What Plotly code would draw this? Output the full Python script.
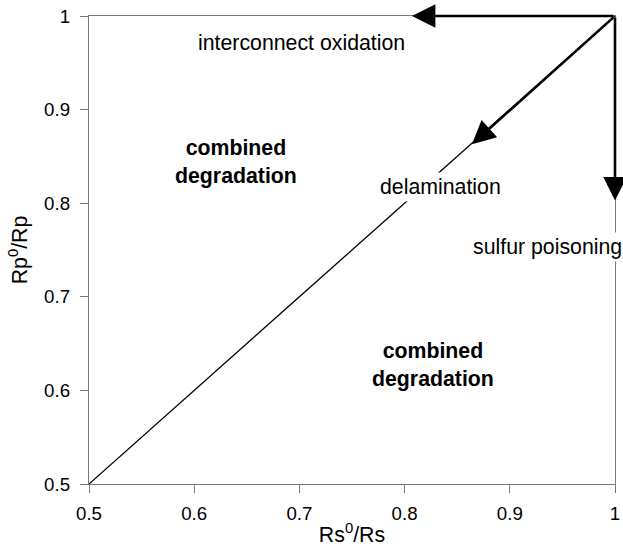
import plotly.graph_objects as go

# diagonal reference line
diag_x = [0.5, 1.0]
diag_y = [0.5, 1.0]

# arrows: start -> end
arrow_names = ["interconnect oxidation", "delamination", "sulfur poisoning"]
arrow_start_x = [1.0, 1.0, 1.0]
arrow_start_y = [1.0, 1.0, 1.0]
arrow_end_x = [0.807, 0.864, 1.0]
arrow_end_y = [1.0, 0.863, 0.803]

# text labels
label_text = ["interconnect oxidation", "delamination", "sulfur poisoning",
              "<b>combined<br>degradation</b>", "<b>combined<br>degradation</b>"]
label_x = [0.702, 0.834, 0.936, 0.640, 0.827]
label_y = [0.971, 0.817, 0.753, 0.844, 0.627]
label_bg = [False, True, True, False, False]

tick_vals = [0.5, 0.6, 0.7, 0.8, 0.9, 1.0]
tick_text = ["0.5", "0.6", "0.7", "0.8", "0.9", "1"]

FONT = "Liberation Sans, Arial, sans-serif"
TXT = 21.3
TICK = 18.7

fig = go.Figure()
fig.add_trace(go.Scatter(x=diag_x, y=diag_y, mode="lines",
                         line=dict(color="black", width=1.3),
                         hoverinfo="skip", showlegend=False, cliponaxis=False))

annotations = []
for sx, sy, ex, ey in zip(arrow_start_x, arrow_start_y, arrow_end_x, arrow_end_y):
    annotations.append(dict(x=ex, y=ey, ax=sx, ay=sy, xref="x", yref="y",
                            axref="x", ayref="y", text="", showarrow=True,
                            arrowhead=2, arrowsize=1.8, arrowwidth=2.6,
                            arrowcolor="black", standoff=0, startstandoff=0))
for t, x, y, bg in zip(label_text, label_x, label_y, label_bg):
    annotations.append(dict(x=x, y=y, xref="x", yref="y", text=t, showarrow=False,
                            font=dict(family=FONT, size=TXT, color="black"),
                            bgcolor="white" if bg else "rgba(0,0,0,0)",
                            borderpad=2, xanchor="center", yanchor="middle"))

axis_common = dict(range=[0.5, 1.0], tickvals=tick_vals, ticktext=tick_text,
                   showgrid=False, zeroline=False, showline=True, mirror=True,
                   linecolor="#7a7a7a", linewidth=1.4, ticks="outside",
                   tickcolor="#7a7a7a", ticklen=8, tickwidth=1.4, automargin=False,
                   tickfont=dict(family=FONT, size=TICK, color="black"))

fig.update_layout(
    width=623, height=547,
    margin=dict(l=89, r=8, t=16, b=63),
    paper_bgcolor="white", plot_bgcolor="white",
    xaxis=dict(**axis_common, ticklabelstandoff=4,
               title=dict(text="Rs<sup>0</sup>/Rs", standoff=4,
                          font=dict(family=FONT, size=TXT, color="black"))),
    yaxis=dict(**axis_common, ticklabelstandoff=6,
               title=dict(text="Rp<sup>0</sup>/Rp", standoff=10,
                          font=dict(family=FONT, size=TXT, color="black"))),
    annotations=annotations,
    showlegend=False,
)

fig.write_html("out.html")
